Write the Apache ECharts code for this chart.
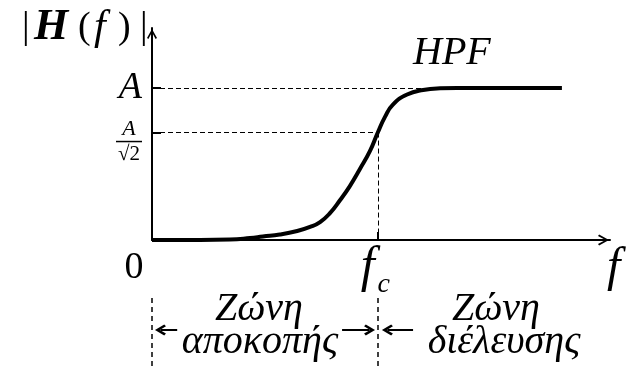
<!DOCTYPE html>
<html><head><meta charset="utf-8">
<script src="https://cdn.jsdelivr.net/npm/echarts@6/dist/echarts.min.js"></script>
<style>html,body{margin:0;padding:0;background:#fff}#c{width:633px;height:366px}</style>
</head><body><div id="c"></div>
<script>
// ---- data (x in arbitrary frequency units, y in units of A) ----
const freq = [0, 10.5, 17.0, 21.4, 24.2, 27.9, 31.7, 34.5, 36.7, 38.9, 41.0, 43.2, 45.4, 47.6, 49.3, 50.9, 52.6, 55.7, 59.2, 62.9, 66.6, 89.5];
const gain = [0, 0, 0.003, 0.013, 0.023, 0.036, 0.059, 0.086, 0.118, 0.178, 0.260, 0.355, 0.467, 0.586, 0.707, 0.812, 0.891, 0.957, 0.987, 0.998, 1, 1];
const A = 1;
const fc = 49.3;
const flatStart = 66.6;
const yTickValues = [A, A / Math.SQRT2];
const yTickLabels = ['A', 'A/√2'];
const xTickValues = [0, fc];
const xTickLabels = ['0', 'f_c'];
const xName = 'f';
const yName = '|H(f)|';
const titleText = 'HPF';
const zoneNames = [['Ζώνη', 'αποκοπής'], ['Ζώνη', 'διέλευσης']];
const zoneArrows = [[5.5, 1.85], [41.5, 47.5], [57.0, 51.4]];
const arrowLevel = 0.53;

const FONT = '"Liberation Serif", "Times New Roman", serif';
const chevron = 'path://M5,0 L10,8 L8.3,9.5 L5,4.2 L1.7,9.5 L0,8 Z';
const axisChevron = 'path://M5,0 L10,9 L8.6,10 L5,3.2 L1.4,10 L0,9 Z';

const chart = echarts.init(document.getElementById('c'), null, {renderer: 'canvas'});

function labelFor(values, labels, v) {
  let best = 0, d = Infinity;
  values.forEach((a, i) => { if (Math.abs(a - v) < d) { d = Math.abs(a - v); best = i; } });
  return labels[best];
}

const yNameParts = yName.split('');
const YMAX = 1.395;

const option = {
  animation: false,
  backgroundColor: '#fff',
  title: {
    text: titleText, left: 413, top: 33, padding: 0,
    textStyle: {fontFamily: FONT, fontStyle: 'italic', fontWeight: 'normal', fontSize: 40, color: '#000'}
  },
  grid: [
    {left: 152, right: 23, top: 28, bottom: 126, outerBoundsMode: 'none'},
    {left: 152, right: 23, top: 298, bottom: 0, outerBoundsMode: 'none'}
  ],
  xAxis: [{
    type: 'value', min: 0, max: 100, gridIndex: 0,
    name: xName, nameLocation: 'end', nameGap: -3, nameMoveOverlap: false,
    nameTextStyle: {fontFamily: FONT, fontStyle: 'italic', fontSize: 48, color: '#000', align: 'left', verticalAlign: 'top', padding: [4, 0, 0, 0]},
    axisLine: {show: true, lineStyle: {color: '#000', width: 2}, symbol: ['none', axisChevron], symbolSize: [11, 13], symbolOffset: [0, -6.5]},
    axisTick: {show: true, customValues: [fc], inside: true, length: 8, lineStyle: {color: '#000', width: 2}},
    axisLabel: {
      show: true, customValues: xTickValues, margin: 9, hideOverlap: false,
      formatter: v => {
        const s = labelFor(xTickValues, xTickLabels, v);
        if (s === 'f_c') return '{f|f}{c|c}';
        return '{z|' + s + '}';
      },
      rich: {
        z: {fontFamily: FONT, fontSize: 38, color: '#000', padding: [0, 36, 0, 0]},
        f: {fontFamily: FONT, fontStyle: 'italic', fontSize: 50, color: '#000', lineHeight: 50, padding: [0, 0, 12, 0]},
        c: {fontFamily: FONT, fontStyle: 'italic', fontSize: 28, color: '#000', lineHeight: 30, verticalAlign: 'bottom', padding: [0, 5, 0, 3]}
      }
    },
    splitLine: {show: false}
  }, {
    type: 'value', min: 0, max: 100, gridIndex: 1, show: false
  }],
  yAxis: [{
    type: 'value', min: 0, max: YMAX, gridIndex: 0,
    name: yNameParts.map((ch, i) => '{t' + i + '|' + ch + '}').join(''),
    nameLocation: 'end', nameGap: 0, nameMoveOverlap: false,
    nameTextStyle: {
      align: 'right', verticalAlign: 'middle', padding: [0, 4, 0, 0],
      rich: {
        t0: {fontFamily: FONT, fontSize: 38, color: '#000', width: 12, align: 'left'},
        t1: {fontFamily: FONT, fontStyle: 'italic', fontWeight: 'bold', fontSize: 44, color: '#000', width: 44, align: 'left'},
        t2: {fontFamily: FONT, fontSize: 38, color: '#000', width: 16, align: 'left'},
        t3: {fontFamily: FONT, fontStyle: 'italic', fontSize: 42, color: '#000', width: 24, align: 'left'},
        t4: {fontFamily: FONT, fontSize: 38, color: '#000', width: 22, align: 'left'},
        t5: {fontFamily: FONT, fontSize: 38, color: '#000', width: 8, align: 'left'}
      }
    },
    axisLine: {show: true, lineStyle: {color: '#000', width: 2}, symbol: ['none', axisChevron], symbolSize: [10, 12], symbolOffset: [0, -6]},
    axisTick: {show: true, customValues: yTickValues, inside: true, length: 9, lineStyle: {color: '#000', width: 2}},
    axisLabel: {
      show: true, customValues: [yTickValues[0]], margin: 10, hideOverlap: false,
      formatter: v => '{a|' + labelFor(yTickValues, yTickLabels, v) + '}',
      rich: {
        a: {fontFamily: FONT, fontStyle: 'italic', fontSize: 38, color: '#000'}
      }
    },
    splitLine: {show: false}
  }, {
    type: 'value', min: 0, max: 1, gridIndex: 1, show: false
  }, {
    // overlay axis carrying the fraction label A/√2
    type: 'value', min: 0, max: YMAX, gridIndex: 0, position: 'left',
    axisLine: {show: false}, axisTick: {show: false}, splitLine: {show: false},
    axisLabel: {
      show: true, customValues: [yTickValues[1]], margin: 10, hideOverlap: false,
      fontFamily: FONT, fontSize: 21, color: '#000',
      padding: [20, 0, 0, 0], lineHeight: 20,
      formatter: v => labelFor(yTickValues, yTickLabels, v) === 'A/√2' ? '{n|A}\n{bar|}\n{d|√2}' : '',
      rich: {
        n: {fontFamily: FONT, fontStyle: 'italic', fontSize: 22, color: '#000', width: 26, align: 'center', lineHeight: 20},
        bar: {width: 26, height: 1.5, backgroundColor: '#000', lineHeight: 4, fontSize: 4},
        d: {fontFamily: FONT, fontSize: 21, color: '#000', width: 26, align: 'center', lineHeight: 22}
      }
    }
  }],
  series: [{
    type: 'line', xAxisIndex: 0, yAxisIndex: 0,
    data: freq.map((f, i) => [f, gain[i]]),
    smooth: 0.5, showSymbol: false, silent: true,
    lineStyle: {color: '#000', width: 4},
    markLine: {
      silent: true, symbol: 'none', label: {show: false},
      lineStyle: {color: '#000', width: 1, type: [5, 3]},
      data: [
        [{coord: [0, A]}, {coord: [flatStart, A]}],
        [{coord: [0, A / Math.SQRT2]}, {coord: [fc, A / Math.SQRT2]}],
        [{coord: [fc, A / Math.SQRT2]}, {coord: [fc, 0]}]
      ]
    }
  }, {
    type: 'line', xAxisIndex: 1, yAxisIndex: 1, data: [], silent: true,
    markLine: {
      silent: true, symbol: 'none', label: {show: false},
      lineStyle: {color: '#000', width: 1.5, type: [5, 4]},
      data: xTickValues.map(v => ({xAxis: v}))
    }
  }, {
    type: 'line', xAxisIndex: 1, yAxisIndex: 1, data: [], silent: true,
    markLine: {
      silent: true, symbol: ['none', chevron], symbolSize: 11, label: {show: false},
      lineStyle: {color: '#000', width: 2, type: 'solid'},
      data: zoneArrows.map(a => [{coord: [a[0], arrowLevel]}, {coord: [a[1], arrowLevel]}])
    }
  }],
  graphic: [
    {type: 'text', x: 259, y: 309, style: {text: zoneNames[0][0], font: 'italic 40px ' + FONT, fill: '#000', align: 'center', verticalAlign: 'middle'}},
    {type: 'text', x: 260, y: 342, style: {text: zoneNames[0][1], font: 'italic 40px ' + FONT, fill: '#000', align: 'center', verticalAlign: 'middle'}},
    {type: 'text', x: 496, y: 309, style: {text: zoneNames[1][0], font: 'italic 40px ' + FONT, fill: '#000', align: 'center', verticalAlign: 'middle'}},
    {type: 'text', x: 504, y: 342, style: {text: zoneNames[1][1], font: 'italic 40px ' + FONT, fill: '#000', align: 'center', verticalAlign: 'middle'}}
  ]
};
chart.setOption(option);
</script>
</body></html>
